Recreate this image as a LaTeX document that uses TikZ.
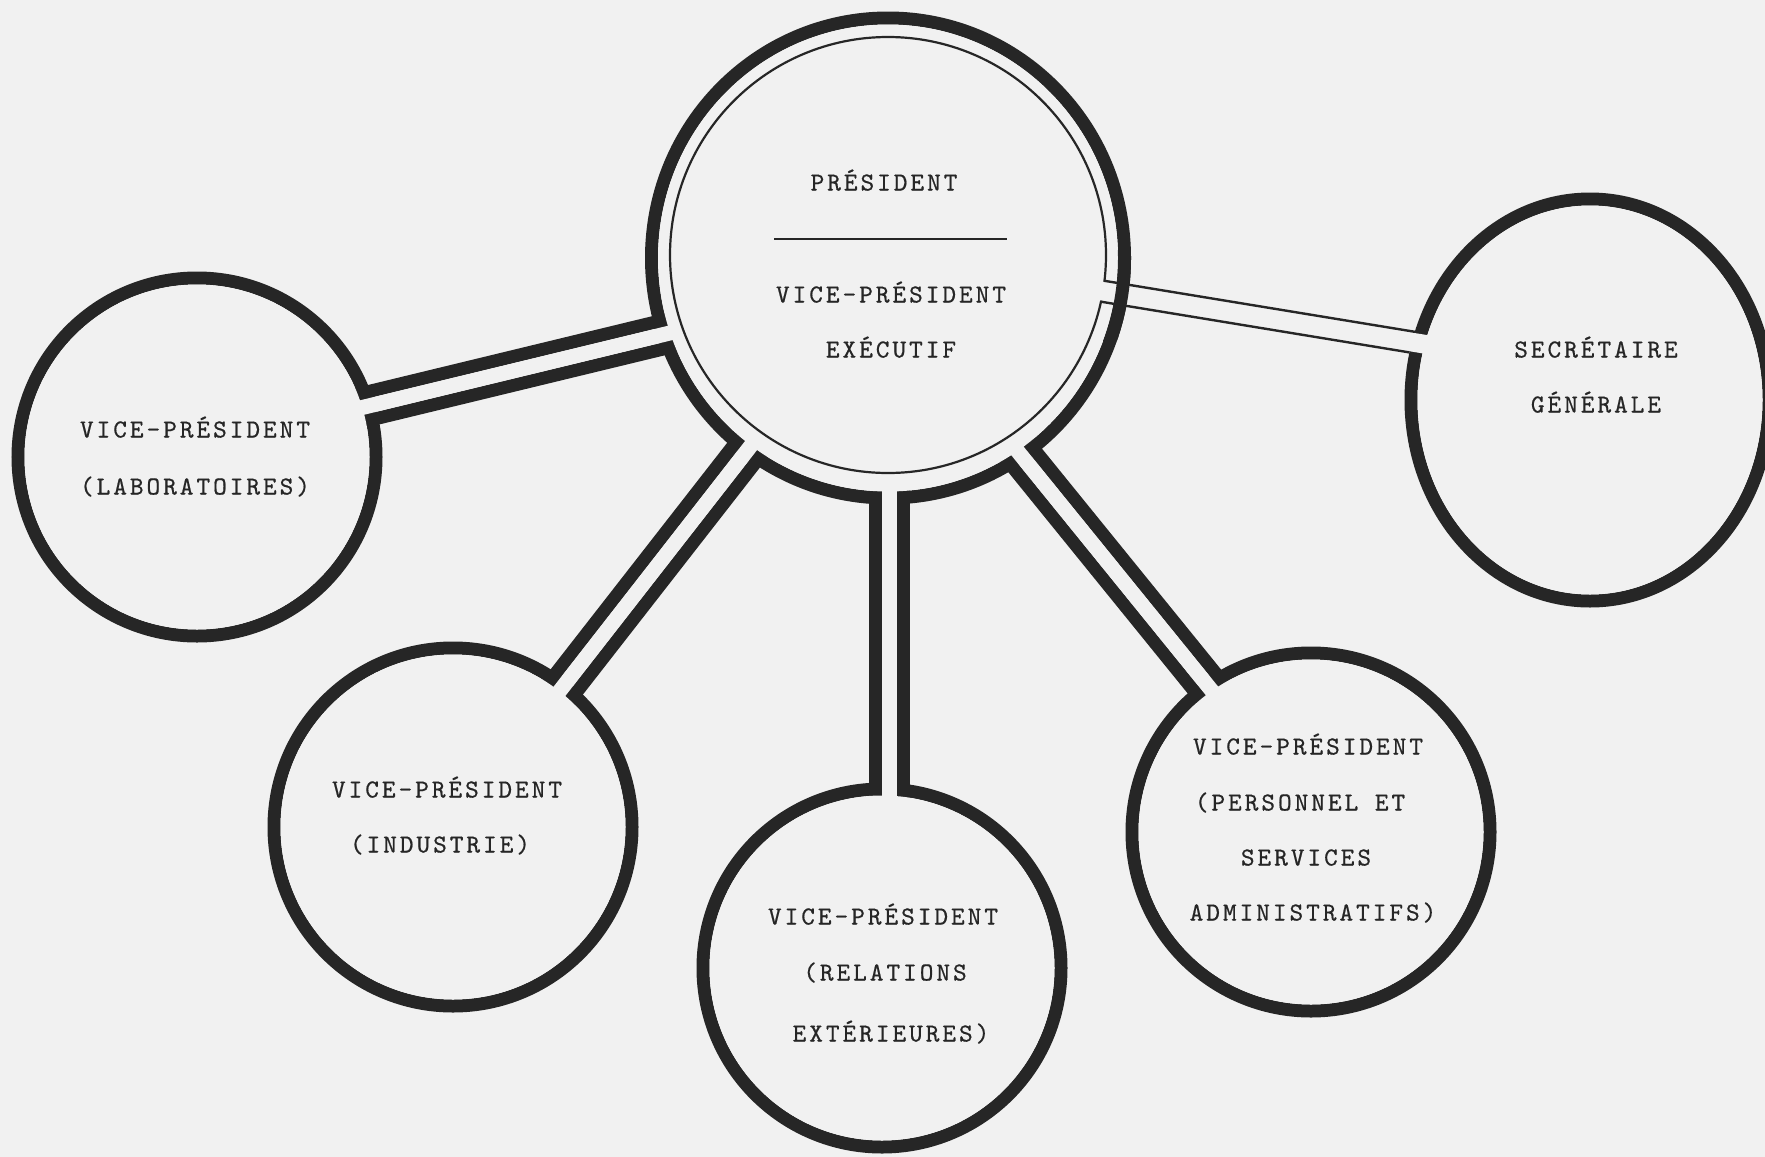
\documentclass[tikz,border=0pt]{standalone}
\usepackage{fontspec}
\newfontfamily\twfont[LetterSpace=11.5,FakeBold=0.6]{lmmono10-regular.otf}
\usetikzlibrary{calc}
\definecolor{paper}{RGB}{241,241,241}
\definecolor{ink}{RGB}{38,38,38}
\newcommand\tubestroke[3]{%
  \draw[tubeline] ($(#1)!#3!90:(#2)$) -- ($(#2)!#3!-90:(#1)$);
  \draw[tubeline] ($(#1)!#3!-90:(#2)$) -- ($(#2)!#3!90:(#1)$);}
\newcommand\tubehole[3]{%
  \fill[paper] ($(#1)!#3!90:(#2)$) -- ($(#1)!#3!-90:(#2)$) -- ($(#2)!#3!90:(#1)$) -- ($(#2)!#3!-90:(#1)$) -- cycle;}
\begin{document}
\begin{tikzpicture}[x=1pt,y=-1pt,
  ring/.style={draw=ink,line width=13pt},
  tubeline/.style={draw=ink,line width=13pt},
  thinline/.style={draw=ink,line width=2.2pt},
  lbl/.style={inner sep=0pt,text height=15pt,text depth=0pt,text=ink,
    font=\twfont\fontsize{26}{30}\selectfont}]
\path[use as bounding box,fill=paper] (0,0) rectangle (1765,1157);
\clip (0,0) rectangle (1765,1157);
% centres
\coordinate (cC) at (888,258);
\coordinate (cT) at (888,255);
\coordinate (cLab) at (197,457);
\coordinate (cInd) at (453,827);
\coordinate (cRel) at (882,968);
\coordinate (cPer) at (1311,832);
\coordinate (cSec) at (1590,400);
% tube ends
\coordinate (tLabA) at (290,425);  \coordinate (tLabB) at (740,316);
\coordinate (tIndA) at (502,765);  \coordinate (tIndB) at (785,402);
\coordinate (tRelA) at (889,900);  \coordinate (tRelB) at (889,380);
\coordinate (tPerA) at (981,406);  \coordinate (tPerB) at (1264,755);
\coordinate (tSecA) at (1069.3,285.8); \coordinate (tSecB) at (1523.2,360.4);
\coordinate (sU1) at (1104.4,280.8); \coordinate (sU2) at (1415.5,331.9);
\coordinate (sL1) at (1101,301.7);   \coordinate (sL2) at (1409.4,352.4);
% thick outlines
\draw[ring] (cC) ellipse [x radius=236.5pt,y radius=240pt];
\foreach \c in {cLab,cInd,cRel,cPer} \draw[ring] (\c) circle [radius=179pt];
\draw[ring] (cSec) ellipse [x radius=179pt,y radius=201pt];
\tubestroke{tLabA}{tLabB}{14pt}
\tubestroke{tIndA}{tIndB}{14pt}
\tubestroke{tRelA}{tRelB}{14pt}
\tubestroke{tPerA}{tPerB}{14pt}
% hollow insides
\fill[paper] (cC) ellipse [x radius=230pt,y radius=233.5pt];
\foreach \c in {cLab,cInd,cRel,cPer} \fill[paper] (\c) circle [radius=172.5pt];
\fill[paper] (cSec) ellipse [x radius=172.5pt,y radius=194.5pt];
\tubehole{tLabA}{tLabB}{7.5pt}
\tubehole{tIndA}{tIndB}{7.5pt}
\tubehole{tRelA}{tRelB}{7.5pt}
\tubehole{tPerA}{tPerB}{7.5pt}
% inner thin circle of the centre
\draw[thinline] (cT) circle [radius=218pt];
% thin tube to the secretary
\tubehole{tSecA}{tSecB}{9.4pt}
\draw[ink,line width=2.4pt] (sU1) -- (sU2);
\draw[ink,line width=2.4pt] (sL1) -- (sL2);
\begin{scope}
  \clip (1085,250) rectangle (1165,340);
  \draw[ring] (cC) ellipse [x radius=236.5pt,y radius=240pt];
\end{scope}
% texts
\node[lbl] (pres) at (884,183) {PRÉSIDENT};
\coordinate (ruleL) at (774,239); \coordinate (ruleR) at (1007,239);
\draw[ink,line width=2pt] (ruleL) -- (ruleR);
\node[lbl] (vpe1) at (891,295) {VICE-PRÉSIDENT};
\node[lbl] (vpe2) at (891,350) {EXÉCUTIF};
\node[lbl] (lab1) at (195,430) {VICE-PRÉSIDENT};
\node[lbl] (lab2) at (195,487) {(LABORATOIRES)};
\node[lbl] (ind1) at (447,790) {VICE-PRÉSIDENT};
\node[lbl] (ind2) at (440,845) {(INDUSTRIE)};
\node[lbl] (rel1) at (883,917) {VICE-PRÉSIDENT};
\node[lbl] (rel2) at (885,973) {(RELATIONS};
\node[lbl] (rel3) at (891,1034) {EXTÉRIEURES)};
\node[lbl] (per1) at (1308,747) {VICE-PRÉSIDENT};
\node[lbl] (per2) at (1300,803) {(PERSONNEL ET};
\node[lbl] (per3) at (1306,858) {SERVICES};
\node[lbl] (per4) at (1313,913) {ADMINISTRATIFS)};
\node[lbl] (sec1) at (1596,350) {SECRÉTAIRE};
\node[lbl] (sec2) at (1596,405) {GÉNÉRALE};
\end{tikzpicture}
\end{document}
